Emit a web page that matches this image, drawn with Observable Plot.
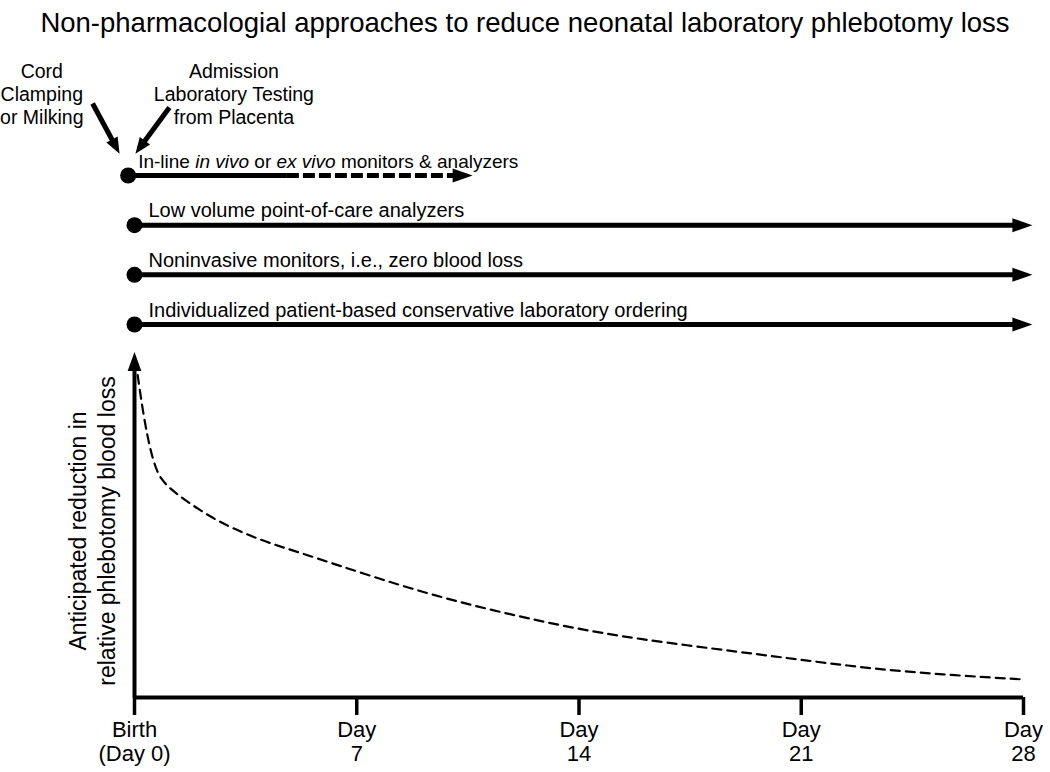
<!DOCTYPE html>
<html>
<head>
<meta charset="utf-8">
<script src="https://cdn.jsdelivr.net/npm/d3@7"></script>
<script src="https://cdn.jsdelivr.net/npm/@observablehq/plot@0.6"></script>
<style>
  body { margin: 0; background: #fff; }
  #chart { width: 1050px; }
  #title { height: 45px; line-height: 45px; text-align: center; font-family: "Liberation Sans", Arial, sans-serif; font-size: 27.5px; color: #000; white-space: nowrap; }
  svg { display: block; }
</style>
</head>
<body>
<div id="chart">
  <div id="title">Non-pharmacologial approaches to reduce neonatal laboratory phlebotomy loss</div>
</div>
<script>
// ---------- data ----------
const laneLabels = [
  "In-line *in vivo* or *ex vivo* monitors & analyzers",
  "Low volume point-of-care analyzers",
  "Noninvasive monitors, i.e., zero blood loss",
  "Individualized patient-based conservative laboratory ordering"
];
const laneStartDay = [-0.2, 0, 0, 0];
const laneSolidUntilDay = [4.8, 28.28, 28.28, 28.28];
const laneEndDay = [10.65, 28.28, 28.28, 28.28];

const noteLabels = ["Cord\nClamping\nor Milking", "Admission\nLaboratory Testing\nfrom Placenta"];
const noteDay = [-2.92, 3.13];
const noteRow = [-2.3, -2.3];
const noteArrowFromDay = [-1.32, 1.10];
const noteArrowFromRow = [-1.45, -1.37];
const noteArrowToDay = [-0.47, 0.03];
const noteArrowToRow = [-0.44, -0.44];

const curveDay = [0.1, 0.29, 0.5, 0.66, 0.82, 1.13, 1.55, 2.08, 2.71, 3.45, 4.28, 5.23, 7.34, 9.42, 11.53, 13.64, 15.8, 19.09, 21.2, 23.28, 25.39, 27.97];
const curveReduction = [0.98, 0.852, 0.751, 0.70, 0.665, 0.634, 0.603, 0.568, 0.532, 0.499, 0.468, 0.44, 0.372, 0.31, 0.259, 0.214, 0.178, 0.138, 0.112, 0.087, 0.070, 0.055];

const tickDays = [0, 7, 14, 21, 28];
const tickLabels = ["Birth\n(Day 0)", "Day\n7", "Day\n14", "Day\n21", "Day\n28"];
const yAxisTop = 1.05;
const yLabel = "Anticipated reduction in\nrelative phlebotomy blood loss";

// ---------- helpers ----------
const FONT = '"Liberation Sans", Arial, sans-serif';
const svgStyle = {fontFamily: FONT, background: "white", color: "black", overflow: "visible"};

// filled arrowhead pointing along (ux, uy); tip at the dot's position
function headSymbol(ux, uy, ratio = 0.36) {
  return {
    draw(ctx, size) {
      const L = Math.sqrt(size / Math.PI);
      const w = L * ratio;
      const nx = -uy, ny = ux;
      ctx.moveTo(0, 0);
      ctx.lineTo(-L * ux + w * nx, -L * uy + w * ny);
      ctx.lineTo(-L * ux - w * nx, -L * uy - w * ny);
      ctx.closePath();
    }
  };
}

const xOpts = {type: "linear", domain: [0, 28], range: [134, 1023]};
const rowOpts = {type: "linear", domain: [0, 3], range: [130, 279]};
const xs = Plot.scale({x: xOpts});
const rs = Plot.scale({y: rowOpts});

const lanes = laneLabels.map((label, i) => {
  const shaftEnd = xs.invert(xs.apply(laneEndDay[i]) - 8);
  return {
    label,
    plain: label.replace(/\*/g, ""),
    row: i,
    start: laneStartDay[i],
    solidEnd: Math.min(laneSolidUntilDay[i], shaftEnd),
    shaftEnd,
    end: laneEndDay[i]
  };
});

const notes = noteLabels.map((label, i) => {
  const px1 = xs.apply(noteArrowFromDay[i]), py1 = rs.apply(noteArrowFromRow[i]);
  const px2 = xs.apply(noteArrowToDay[i]), py2 = rs.apply(noteArrowToRow[i]);
  const len = Math.hypot(px2 - px1, py2 - py1);
  const ux = (px2 - px1) / len, uy = (py2 - py1) / len;
  return {
    label, day: noteDay[i], row: noteRow[i],
    x1: noteArrowFromDay[i], y1: noteArrowFromRow[i],
    x2: xs.invert(px2 - ux * 7), y2: rs.invert(py2 - uy * 7),
    tipX: noteArrowToDay[i], tipY: noteArrowToRow[i], ux, uy
  };
});

// ---------- top panel: approaches ----------
const topPanel = Plot.plot({
  width: 1050, height: 300,
  marginLeft: 134, marginRight: 27, marginTop: 0, marginBottom: 0,
  x: {...xOpts, axis: null},
  y: {...rowOpts, axis: null},
  style: svgStyle,
  marks: [
    Plot.link(lanes, {x1: "start", x2: "solidEnd", y1: "row", y2: "row", stroke: "black", strokeWidth: 5}),
    Plot.link(lanes.filter(d => d.solidEnd < d.shaftEnd), {x1: "solidEnd", x2: "shaftEnd", y1: "row", y2: "row", stroke: "black", strokeWidth: 5, strokeDasharray: "12,4"}),
    Plot.dot(lanes, {x: "end", y: "row", r: 20, symbol: headSymbol(1, 0, 0.35), fill: "black", stroke: "none"}),
    Plot.dot(lanes, {x: "start", y: "row", r: 8, fill: "black", stroke: "none"}),
    Plot.text(lanes.slice(0, 1), {x: "start", y: "row", text: "plain", textAnchor: "start", lineAnchor: "bottom", dx: 10, dy: -8, fontSize: 19, fill: "black"}),
    Plot.text(lanes.slice(1), {x: "start", y: "row", text: "plain", textAnchor: "start", lineAnchor: "bottom", dx: 14, dy: -8, fontSize: 20, fill: "black"}),
    Plot.text(notes, {x: "day", y: "row", text: "label", textAnchor: "middle", lineAnchor: "top", lineHeight: 1.19, fontSize: 19.5, fill: "black"}),
    Plot.link(notes, {x1: "x1", y1: "y1", x2: "x2", y2: "y2", stroke: "black", strokeWidth: 5}),
    ...notes.map(n => Plot.dot([n], {x: "tipX", y: "tipY", r: 16, symbol: headSymbol(n.ux, n.uy, 0.4), fill: "black", stroke: "none"}))
  ]
});

// italicise the marked words of lane labels
topPanel.querySelectorAll("text").forEach(t => {
  const lane = lanes.find(l => l.label.includes("*") && t.textContent === l.plain);
  if (!lane) return;
  t.textContent = "";
  lane.label.split("*").forEach((part, k) => {
    const ts = document.createElementNS("http://www.w3.org/2000/svg", "tspan");
    ts.textContent = part;
    if (k % 2 === 1) ts.setAttribute("font-style", "italic");
    t.appendChild(ts);
  });
});

// ---------- bottom panel: anticipated reduction ----------
const yOpts = {type: "linear", domain: [0, 1], range: [352, 23]};
const ys = Plot.scale({y: yOpts});
const curve = curveDay.map((d, i) => ({day: d, reduction: curveReduction[i]}));
const yAxisShaft = [{x1: 0, y1: 0, x2: 0, y2: ys.invert(ys.apply(yAxisTop) + 8)}];

const bottomPanel = Plot.plot({
  width: 1050, height: 427,
  marginLeft: 134, marginRight: 27, marginTop: 23, marginBottom: 75,
  x: {...xOpts, axis: null},
  y: {...yOpts, axis: null},
  style: svgStyle,
  marks: [
    Plot.line(curve, {x: "day", y: "reduction", curve: "basis", stroke: "black", strokeWidth: 2.2, strokeDasharray: "9,6"}),
    Plot.ruleY([0], {x1: 0, x2: 28, stroke: "black", strokeWidth: 4}),
    Plot.link(yAxisShaft, {x1: "x1", y1: "y1", x2: "x2", y2: "y2", stroke: "black", strokeWidth: 4}),
    Plot.dot([{x: 0, y: yAxisTop}], {x: "x", y: "y", r: 19, symbol: headSymbol(0, -1, 0.36), fill: "black", stroke: "none"}),
    Plot.axisX({
      ticks: tickDays,
      tickFormat: d => tickLabels[tickDays.indexOf(d)],
      tickSize: 18, tickPadding: 4, strokeWidth: 3.5, stroke: "black",
      fontSize: 22, lineHeight: 1.1, fill: "black", label: null
    }),
    Plot.text([yLabel], {text: d => d, frameAnchor: "left", dx: -43, dy: -2, rotate: -90, fontSize: 23, lineHeight: 1.22, textAnchor: "middle", lineAnchor: "middle", fill: "black"})
  ]
});

const chart = document.getElementById("chart");
chart.appendChild(topPanel);
chart.appendChild(bottomPanel);
</script>
</body>
</html>
